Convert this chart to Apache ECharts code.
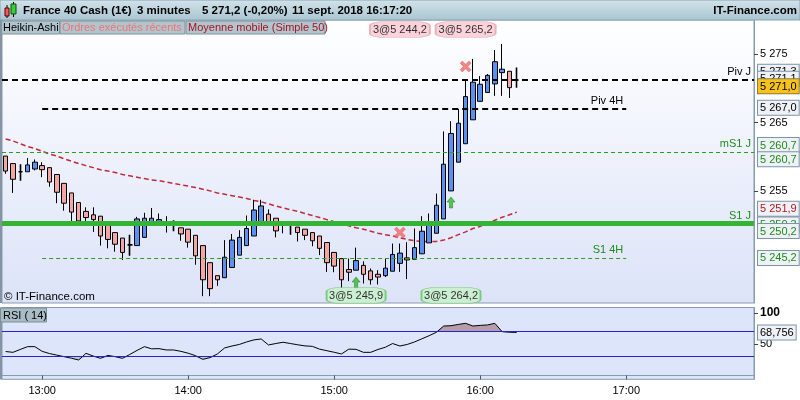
<!DOCTYPE html>
<html><head><meta charset="utf-8">
<script src="https://cdn.jsdelivr.net/npm/echarts@6/dist/echarts.min.js"></script>
<style>html,body{margin:0;padding:0;background:#fff}#c{width:800px;height:400px}</style>
</head><body><div id="c"></div>
<script>
// ---------- data ----------
const firstSlot = '12:45';
const slotMinutes = 3;
const slotCount = 103;
const tickLabels = ['13:00', '14:00', '15:00', '16:00', '17:00'];
const priceTicks = [5255, 5265, 5275];
const rsiTicks = [50, 100];

// Heikin-Ashi candles [open, close, low, high], 12:45 .. 16:15
const heikinAshi = [
  [5260.1,5257.9,5257.5,5260.1],[5259.0,5256.7,5254.7,5259.0],[5257.8,5257.8,5256.5,5258.9],[5257.8,5258.8,5257.8,5259.8],
  [5258.2,5259.2,5258.0,5259.6],[5258.7,5258.1,5257.0,5259.2],[5258.4,5256.3,5255.6,5258.4],[5257.4,5254.8,5253.2,5257.4],
  [5256.1,5253.2,5252.1,5256.1],[5254.7,5251.9,5250.5,5254.7],[5253.3,5250.6,5250.1,5253.3],[5252.0,5251.1,5250.1,5252.6],
  [5251.5,5250.8,5249.0,5252.6],[5251.3,5248.4,5247.0,5251.3],[5250.0,5247.9,5246.6,5250.0],[5248.9,5247.2,5246.1,5248.9],
  [5248.1,5246.0,5244.9,5248.1],[5247.1,5247.1,5245.5,5248.6],[5247.0,5250.9,5247.0,5251.2],[5248.2,5251.0,5248.2,5251.8],
  [5250.0,5251.0,5250.0,5252.5],[5250.4,5250.8,5250.4,5251.7],[5250.5,5250.0,5248.9,5251.3],[5250.2,5250.2,5249.1,5250.7],
  [5249.6,5248.7,5247.7,5249.6],[5249.4,5247.5,5246.7,5249.4],[5248.5,5245.5,5244.2,5248.5],[5247.0,5242.0,5239.6,5247.0],
  [5244.5,5240.7,5239.6,5244.5],[5242.6,5242.0,5241.1,5242.6],[5242.3,5245.3,5242.3,5247.8],[5243.8,5247.8,5243.8,5248.7],
  [5245.6,5248.2,5245.6,5249.25],[5247.0,5249.5,5247.0,5251.4],[5248.4,5252.2,5248.4,5253.7],[5250.3,5252.8,5250.3,5253.7],
  [5251.6,5250.3,5250.3,5252.3],[5251.0,5249.15,5248.2,5251.0],[5250.0,5250.5,5248.8,5250.5],[5250.2,5250.2,5248.6,5250.4],
  [5249.7,5248.9,5247.6,5249.7],[5249.4,5248.5,5247.8,5249.4],[5248.9,5247.7,5246.9,5248.9],[5248.4,5246.6,5245.6,5248.4],
  [5247.45,5244.5,5243.15,5247.45],[5246.0,5244.0,5243.1,5246.0],[5245.1,5242.0,5240.8,5245.1],[5243.5,5243.1,5241.8,5245.1],
  [5243.4,5244.8,5243.4,5246.7],[5244.1,5242.8,5241.45,5244.7],[5243.3,5242.0,5241.3,5243.65],[5242.8,5242.4,5241.3,5243.4],
  [5242.6,5243.7,5242.4,5245.1],[5243.25,5245.7,5243.25,5247.3],[5244.4,5245.9,5243.15,5247.3],[5245.2,5244.9,5242.1,5247.5],
  [5245.0,5246.7,5245.0,5249.5],[5245.8,5249.1,5245.8,5251.3],[5247.4,5250.2,5247.4,5251.7],[5248.8,5252.9,5248.8,5254.6],
  [5250.9,5258.9,5250.9,5263.7],[5255.0,5263.4,5255.0,5265.2],[5259.2,5264.9,5259.2,5267.0],[5261.9,5268.8,5261.9,5271.1],
  [5265.4,5270.9,5265.4,5274.3],[5268.1,5270.6,5268.1,5271.8],[5269.4,5271.9,5269.4,5272.1],[5270.65,5273.9,5268.9,5275.6],
  [5272.3,5272.8,5268.9,5276.5],[5272.5,5270.1,5268.6,5272.5],[5271.2,5271.2,5270.1,5273.05]
];

// Moyenne mobile (Simple 50)
const maValues = [
  5262.6,5262.3,5261.9,5261.5,5261.2,5260.8,5260.4,5260.1,5259.7,5259.35,
  5259.0,5258.7,5258.4,5258.1,5257.9,5257.7,5257.4,5257.2,5257.0,5256.8,
  5256.6,5256.5,5256.3,5256.1,5255.9,5255.7,5255.5,5255.25,5255.0,5254.7,
  5254.5,5254.3,5254.1,5253.9,5253.6,5253.4,5253.1,5252.8,5252.5,5252.25,
  5252.0,5251.7,5251.4,5251.1,5250.8,5250.5,5250.2,5249.9,5249.6,5249.4,
  5249.1,5248.8,5248.6,5248.4,5248.15,5247.9,5247.7,5247.6,5247.6,5247.6,
  5247.8,5248.15,5248.6,5249.0,5249.5,5249.8,5250.3,5250.7,5251.15,5251.5,5251.9
];

// RSI (14)
const rsiValues = [
  38.2,36.9,41.5,46,46,38.5,35,32.5,30,27.5,
  24.7,35.3,31,27.3,32,30,27.3,33.5,40,46,
  42.5,42.8,40.7,40.7,38.5,35.5,31.6,25.7,28.5,34.3,
  44,47,49.5,53.5,56.8,58.3,48.7,51,53,51,
  49,47.2,46.5,42,39.5,37,34.3,42,41.7,36.9,
  36.9,41.5,45,51,47,49.5,53.5,58.5,63.5,69,
  79,79.5,81.5,83.3,79,80,80.7,83.3,70,69,68.756
];
const rsiLevels = [70, 30];
const rsiLast = 68.756;

// Pivot levels
const levelNames  = ['Piv J', 'Piv 4H', 'mS1 J', 'S1 J', 'S1 4H'];
const levelValues = [5271.3, 5267.0, 5260.7, 5250.2, 5245.2];
const levelFrom   = [null, '13:00', null, null, '13:00'];
const levelTo     = [null, '17:00', null, null, '17:00'];

// Value boxes on the price axis
const axisBoxValues = [5271.3, 5271.1, 5271.0, 5267.0, 5260.7, 5260.7, 5251.9, 5250.3, 5250.2, 5245.2];

// Executed orders
const buyTimes   = ['15:09', '15:48'];
const buyMarks   = [5241.6, 5253.3];
const buyLabels  = ['3@5 245,9', '3@5 264,2'];
const sellTimes  = ['15:27', '15:54'];
const sellMarks  = [5248.9, 5273.2];
const sellLabels = ['3@5 244,2', '3@5 265,2'];

// ---------- build ----------
const categories = [];
{
  let [h, m] = firstSlot.split(':').map(Number);
  for (let i = 0; i < slotCount; i++) {
    categories.push(String(h).padStart(2, '0') + ':' + String(m).padStart(2, '0'));
    m += slotMinutes; if (m >= 60) { m -= 60; h += 1; }
  }
}
const FONT = '"Liberation Sans", Arial, sans-serif';
function fmtFr(v, d) {
  const s = v.toFixed(d); const p = s.split('.');
  const ip = p[0].replace(/\B(?=(\d{3})+(?!\d))/g, ' ');
  return p[1] ? ip + ',' + p[1] : ip;
}
const yMin = 5238.6, yMax = 5280.0;

const candleItems = heikinAshi.map(d => {
  const it = { value: d };
  if (d[0] === d[1]) it.itemStyle = { color: '#000', color0: '#000', borderColor: '#000', borderColor0: '#000', borderWidth: 1.6 };
  return it;
});

const levelStyles = [
  { line: { color: '#000', width: 2, type: [6, 4] }, text: '#000' },
  { line: { color: '#000', width: 2, type: [6, 4] }, text: '#000' },
  { line: { color: '#22a022', width: 1, type: [4, 3] }, text: '#1d8a1d' },
  { line: { color: '#34b334', width: 5, type: 'solid' }, text: '#1d8a1d' },
  { line: { color: '#22a022', width: 1, type: [4, 3] }, text: '#1d8a1d' }
];
const levelData = levelNames.map((name, i) => {
  const st = levelStyles[i];
  const label = { show: true, position: 'insideEndTop', formatter: name, color: st.text, fontSize: 11, fontFamily: FONT, distance: [3, 2] };
  if (levelFrom[i] == null) return { yAxis: levelValues[i], lineStyle: st.line, label };
  return [{ coord: [levelFrom[i], levelValues[i]], lineStyle: st.line, label }, { coord: [levelTo[i], levelValues[i]] }];
});

const boxKinds = {
  plain:   { color: '#000', backgroundColor: '#eef2f7', borderColor: '#7d93a6' },
  current: { color: '#000', backgroundColor: '#f7c31a', borderColor: '#8a7a40' },
  green:   { color: '#1d8a1d', backgroundColor: '#eef2f7', borderColor: '#7d93a6' },
  ma:      { color: '#b01820', backgroundColor: '#eef2f7', borderColor: '#7d93a6' }
};
const axisBoxKind  = ['plain', 'plain', 'current', 'plain', 'green', 'green', 'ma', 'green', 'green', 'green'];
const axisBoxShift = [-7.8, -2.2, 4.7, -1, -6.9, 7.3, -3.4, 1.4, 7.3, 0];

function boxLabel(text, kind, shift) {
  const k = boxKinds[kind];
  const rich = {
    b: { color: k.color, backgroundColor: k.backgroundColor, borderColor: k.borderColor, borderWidth: 1,
         padding: [2, 2, 1, 2], fontSize: 11, lineHeight: 12, fontFamily: FONT },
    s: { fontSize: 1, lineHeight: Math.max(0.1, Math.abs(shift) * 2) }
  };
  let f = '{b|' + text + '}';
  if (shift < 0) f = f + '\n{s| }';
  else if (shift > 0) f = '{s| }\n' + f;
  return { show: true, position: 'end', distance: 4, formatter: f, rich };
}
const boxData = axisBoxValues.map((v, i) => ({
  yAxis: v, lineStyle: { color: 'transparent', width: 1 }, label: boxLabel(fmtFr(v, 1), axisBoxKind[i], axisBoxShift[i])
}));

const xPath = 'path://M0,2 L2,0 L5,3 L8,0 L10,2 L7,5 L10,8 L8,10 L5,7 L2,10 L0,8 L3,5 Z';
const upPath = 'path://M4,0 L8,4.6 L5.6,4.6 L5.6,10 L2.4,10 L2.4,4.6 L0,4.6 Z';

const nulls = categories.map(() => null);

const option = {
  animation: false,
  backgroundColor: '#fff',
  textStyle: { fontFamily: FONT },
  grid: [
    { left: 2, right: 46, top: 20, bottom: 97, show: true, borderColor: '#8a9bab', borderWidth: 1,
      backgroundColor: new echarts.graphic.LinearGradient(0, 0, 0, 1, [{ offset: 0, color: '#ffffff' }, { offset: 1, color: '#dce3f8' }]) },
    { left: 2, right: 46, top: 307.5, bottom: 20.7, show: true, borderColor: '#8a9bab', borderWidth: 1, backgroundColor: '#dce5fa' }
  ],
  xAxis: [
    { gridIndex: 0, type: 'category', data: categories, boundaryGap: true,
      axisLine: { show: false }, axisTick: { show: false }, axisLabel: { show: false }, splitLine: { show: false } },
    { gridIndex: 1, type: 'category', data: categories, boundaryGap: true,
      axisLine: { show: true, lineStyle: { color: '#8a9bab' } },
      axisTick: { show: true, alignWithLabel: true, length: 4, interval: (i, v) => tickLabels.includes(v), lineStyle: { color: '#555' } },
      axisLabel: { interval: (i, v) => tickLabels.includes(v), color: '#000', fontSize: 11, margin: 6, fontFamily: FONT },
      splitLine: { show: false } }
  ],
  yAxis: [
    { gridIndex: 0, type: 'value', position: 'right', min: yMin, max: yMax,
      axisLine: { show: true, lineStyle: { color: '#8a9bab' } },
      axisTick: { show: true, customValues: priceTicks, length: 4, lineStyle: { color: '#444' } },
      axisLabel: { customValues: priceTicks, formatter: v => fmtFr(v, 0), color: '#000', fontSize: 11, margin: 6, fontFamily: FONT },
      splitLine: { show: false } },
    { gridIndex: 1, type: 'value', position: 'right', min: -6.2, max: 108.6,
      axisLine: { show: true, lineStyle: { color: '#8a9bab' } },
      axisTick: { show: true, customValues: rsiTicks, length: 4, lineStyle: { color: '#444' } },
      axisLabel: { customValues: rsiTicks, margin: 6, color: '#000', fontSize: 11, fontFamily: FONT,
        formatter: v => v === 100 ? '{b|100}' : String(v), rich: { b: { fontWeight: 'bold', fontSize: 12, color: '#000', fontFamily: FONT } } },
      splitLine: { show: false } }
  ],
  series: [
    { type: 'line', name: 'levels', xAxisIndex: 0, yAxisIndex: 0, data: nulls, symbol: 'none', silent: true, z: 1,
      markLine: { silent: true, symbol: ['none', 'none'], animation: false, data: levelData } },
    { type: 'candlestick', name: 'Heikin-Ashi', xAxisIndex: 0, yAxisIndex: 0, data: candleItems, barWidth: 5, z: 3,
      itemStyle: { color: '#5b8ff0', color0: '#f5a5a5', borderColor: '#000', borderColor0: '#000', borderWidth: 1 } },
    { type: 'line', name: 'Moyenne mobile (Simple 50)', xAxisIndex: 0, yAxisIndex: 0, data: maValues, symbol: 'none', z: 2,
      lineStyle: { color: '#c02a3c', width: 1.5, type: [5, 3] } },
    { type: 'line', name: 'axisBoxes', xAxisIndex: 0, yAxisIndex: 0, data: nulls, symbol: 'none', silent: true, z: 6, clip: false,
      markLine: { silent: true, symbol: ['none', 'none'], animation: false, data: boxData } },
    { type: 'scatter', name: 'sell', xAxisIndex: 0, yAxisIndex: 0, z: 5, symbol: xPath, symbolSize: 11,
      itemStyle: { color: '#f26868', borderColor: '#d84a4a', borderWidth: 0.5 },
      data: sellTimes.map((t, i) => [t, sellMarks[i]]) },
    { type: 'scatter', name: 'buy', xAxisIndex: 0, yAxisIndex: 0, z: 5, symbol: upPath, symbolSize: [8, 11],
      itemStyle: { color: '#2fb62f', borderColor: '#1a7a1a', borderWidth: 0.6 },
      data: buyTimes.map((t, i) => [t, buyMarks[i]]) },
    { type: 'scatter', name: 'sellLabels', xAxisIndex: 0, yAxisIndex: 0, z: 5, symbol: 'roundRect', symbolSize: [60, 16],
      itemStyle: { color: '#f8c8d0', borderColor: '#e6a2b0', borderWidth: 1 },
      label: { show: true, position: 'inside', color: '#000', fontSize: 11, fontFamily: FONT, formatter: p => sellLabels[p.dataIndex] },
      data: sellTimes.map(t => [t, yMax - 1.4]) },
    { type: 'scatter', name: 'buyLabels', xAxisIndex: 0, yAxisIndex: 0, z: 5, symbol: 'roundRect', symbolSize: [59, 16],
      itemStyle: { color: '#c8f0c8', borderColor: '#62c262', borderWidth: 1 },
      label: { show: true, position: 'inside', color: '#000', fontSize: 11, fontFamily: FONT, formatter: p => buyLabels[p.dataIndex] },
      data: buyTimes.map(t => [t, yMin + 1.1]) },
    { type: 'line', name: 'rsiHigh', xAxisIndex: 1, yAxisIndex: 1, symbol: 'none', z: 2,
      lineStyle: { width: 0, opacity: 0 }, areaStyle: { origin: rsiLevels[0], color: '#b89ca8', opacity: 1 },
      data: rsiValues.map(v => Math.max(v, rsiLevels[0])) },
    { type: 'line', name: 'rsiLow', xAxisIndex: 1, yAxisIndex: 1, symbol: 'none', z: 2,
      lineStyle: { width: 0, opacity: 0 }, areaStyle: { origin: rsiLevels[1], color: '#b9cdb9', opacity: 1 },
      data: rsiValues.map(v => Math.min(v, rsiLevels[1])) },
    { type: 'line', name: 'RSI', xAxisIndex: 1, yAxisIndex: 1, data: rsiValues, symbol: 'none', z: 4,
      lineStyle: { color: '#000', width: 1 },
      markLine: { silent: true, symbol: ['none', 'none'], animation: false,
        data: rsiLevels.map(v => ({ yAxis: v, lineStyle: { color: '#2424c8', width: 1, type: 'solid' }, label: { show: false } }))
          .concat([{ yAxis: rsiLast, lineStyle: { color: 'transparent' }, label: boxLabel(String(rsiLast).replace('.', ','), 'plain', 0) }]) } }
  ],
  graphic: [
    { type: 'rect', z: 100, shape: { x: 0, y: 0, width: 800, height: 20 },
      style: { fill: new echarts.graphic.LinearGradient(0, 0, 0, 1, [{ offset: 0, color: '#d2e3ea' }, { offset: 1, color: '#a9c5d2' }]), stroke: '#8aa4b0', lineWidth: 1 } },
    { type: 'line', z: 101, shape: { x1: 7, y1: 5, x2: 7, y2: 18 }, style: { stroke: '#000', lineWidth: 1 } },
    { type: 'rect', z: 102, shape: { x: 5, y: 8, width: 4, height: 8 }, style: { fill: '#f05a5a', stroke: '#500', lineWidth: 1 } },
    { type: 'line', z: 101, shape: { x1: 13.5, y1: 2, x2: 13.5, y2: 17 }, style: { stroke: '#000', lineWidth: 1 } },
    { type: 'rect', z: 102, shape: { x: 11, y: 4, width: 5, height: 10 }, style: { fill: '#3ccc3c', stroke: '#050', lineWidth: 1 } },
    { type: 'text', z: 102, style: { text: 'France 40 Cash (1€)', x: 23, y: 11, font: 'bold 11.5px ' + FONT, fill: '#000', verticalAlign: 'middle' } },
    { type: 'text', z: 102, style: { text: '3 minutes', x: 137, y: 11, font: 'bold 11.5px ' + FONT, fill: '#000', verticalAlign: 'middle' } },
    { type: 'text', z: 102, style: { text: '5 271,2 (-0,20%)', x: 202, y: 11, font: 'bold 11.5px ' + FONT, fill: '#000', verticalAlign: 'middle' } },
    { type: 'text', z: 102, style: { text: '11 sept. 2018 16:17:20', x: 292, y: 11, font: 'bold 11.5px ' + FONT, fill: '#000', verticalAlign: 'middle' } },
    { type: 'text', z: 102, style: { text: 'IT-Finance.com', x: 797, y: 11, font: 'bold 11.5px ' + FONT, fill: '#000', verticalAlign: 'middle', align: 'right' } },
    { type: 'rect', z: 100, shape: { x: 0.5, y: 21, width: 59, height: 13 }, style: { fill: '#b2c5cf', stroke: '#7e929c', lineWidth: 1 } },
    { type: 'text', z: 101, style: { text: 'Heikin-Ashi', x: 3, y: 28, font: '11px ' + FONT, fill: '#000', verticalAlign: 'middle' } },
    { type: 'rect', z: 100, shape: { x: 60, y: 21, width: 125, height: 13 }, style: { fill: '#b2c5cf', stroke: '#7e929c', lineWidth: 1 } },
    { type: 'text', z: 101, style: { text: 'Ordres exécutés récents', x: 62, y: 28, font: '11px ' + FONT, fill: '#f07474', verticalAlign: 'middle' } },
    { type: 'rect', z: 100, shape: { x: 186, y: 21, width: 139, height: 13 }, style: { fill: '#b2c5cf', stroke: '#7e929c', lineWidth: 1 } },
    { type: 'text', z: 101, style: { text: 'Moyenne mobile (Simple 50)', x: 188, y: 28, font: '11px ' + FONT, fill: '#a8141e', verticalAlign: 'middle' } },
    { type: 'rect', z: 100, shape: { x: 0, y: 20, width: 2, height: 283 }, style: { fill: '#8494a4' } },
    { type: 'rect', z: 100, shape: { x: 0, y: 307.5, width: 2, height: 72 }, style: { fill: '#8494a4' } },
    { type: 'text', z: 101, style: { text: '© IT-Finance.com', x: 4, y: 297, font: '11.5px ' + FONT, fill: '#000', verticalAlign: 'middle' } },
    { type: 'rect', z: 100, shape: { x: 0.5, y: 308, width: 46, height: 14 }, style: { fill: '#a9bcc6', stroke: '#7b8d98', lineWidth: 1 } },
    { type: 'text', z: 101, style: { text: 'RSI ( 14)', x: 3, y: 315.5, font: '11px ' + FONT, fill: '#000', verticalAlign: 'middle' } }
  ]
};
const chart = echarts.init(document.getElementById('c'), null, { renderer: 'canvas' });
chart.setOption(option);
</script>
</body></html>
